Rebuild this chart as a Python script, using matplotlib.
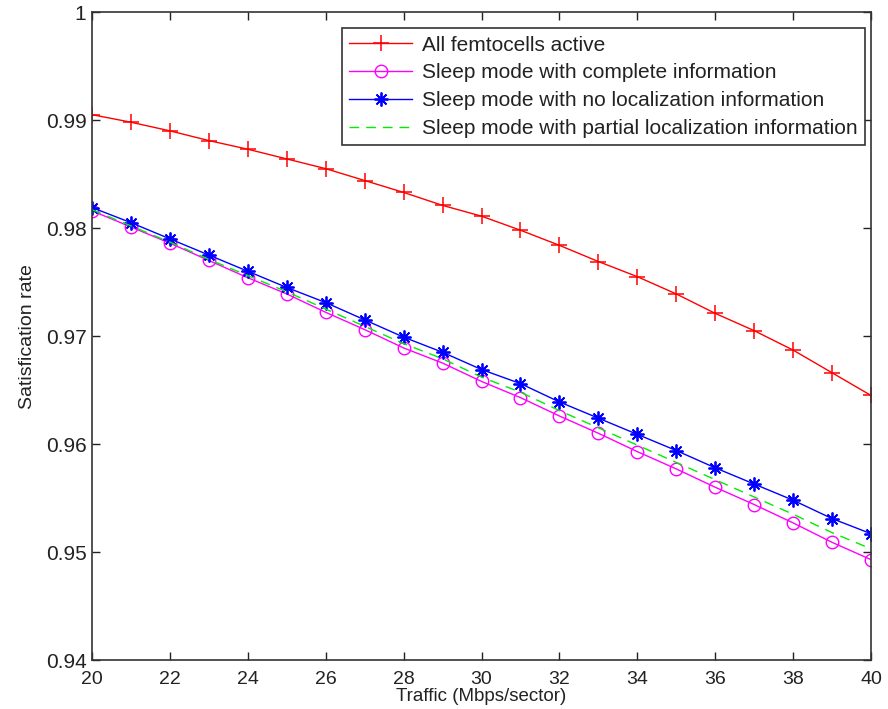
import numpy as np
import matplotlib.pyplot as plt
from matplotlib.ticker import FormatStrFormatter

plt.rcParams['font.family'] = ['Liberation Sans', 'DejaVu Sans']

# traffic load points
traffic = np.arange(20, 41)

all_active = [0.9905, 0.9898, 0.9890, 0.9881, 0.9873, 0.9864, 0.9855, 0.9844,
              0.9833, 0.9821, 0.9811, 0.9798, 0.9784, 0.9769, 0.9755, 0.9739,
              0.9721, 0.9705, 0.9687, 0.9666, 0.9645]
complete_info = [0.9816, 0.9801, 0.9786, 0.9770, 0.9754, 0.9739, 0.9722, 0.9706,
                 0.9689, 0.9675, 0.9658, 0.9643, 0.9626, 0.9610, 0.9593, 0.9577,
                 0.9560, 0.9544, 0.9527, 0.9509, 0.9493]
no_loc_info = [0.9819, 0.9805, 0.9790, 0.9775, 0.9760, 0.9745, 0.9731, 0.9715,
               0.9699, 0.9685, 0.9669, 0.9656, 0.9639, 0.9624, 0.9609, 0.9594,
               0.9578, 0.9563, 0.9548, 0.9531, 0.9517]
partial_loc_info = [0.9817, 0.9802, 0.9787, 0.9771, 0.9756, 0.9741, 0.9725, 0.9709,
                    0.9693, 0.9679, 0.9662, 0.9648, 0.9631, 0.9615, 0.9599, 0.9583,
                    0.9567, 0.9551, 0.9535, 0.9518, 0.9503]

labels = ['All femtocells active',
          'Sleep mode with complete information',
          'Sleep mode with no localization information',
          'Sleep mode with partial localization information']

fig = plt.figure(figsize=(8.88, 7.09), dpi=100)
ax = fig.add_axes([0.1036, 0.069, 0.8773, 0.914])

# asterisk marker: 8 spokes like the classic '*' symbol
asterisk = (8, 2, 0)

ax.plot(traffic, all_active, color='red', marker='+', ms=11, mew=1.1, lw=1.0, label=labels[0])
ax.plot(traffic, complete_info, color='magenta', marker='o', ms=9, mfc='none', mew=1.0, lw=1.0, label=labels[1])
ax.plot(traffic, no_loc_info, color='blue', marker=asterisk, ms=10, mew=1.3, lw=1.0, label=labels[2])
ax.plot(traffic, partial_loc_info, color='#00ee00', ls=(0, (7, 5)), lw=1.0, label=labels[3])

ax.set_xlim(20, 40)
ax.set_ylim(0.94, 1.0)
ax.set_xticks(np.arange(20, 41, 2))
ax.set_yticks(np.arange(0.94, 1.001, 0.01))
ax.yaxis.set_major_formatter(FormatStrFormatter('%g'))
ax.tick_params(direction='in', top=True, right=True, length=6, width=1.0, colors='#222222')
ax.tick_params(axis='x', labelsize=14, pad=8)
ax.tick_params(axis='y', labelsize=15, pad=4)
for s in ax.spines.values():
    s.set_linewidth(1.2)
    s.set_color('#333333')

ax.set_xlabel('Traffic (Mbps/sector)', fontsize=13.5, labelpad=0, color='#222222')
ax.set_ylabel('Satisfication rate', fontsize=14, labelpad=7, color='#222222')

leg = ax.legend(loc='upper right', bbox_to_anchor=(0.9925, 0.975), fontsize=15,
                frameon=True, fancybox=False, edgecolor='#333333', framealpha=1,
                handlelength=3.0, borderpad=0.35, labelspacing=0.42,
                handletextpad=0.5, borderaxespad=0)
leg.get_frame().set_linewidth(1.2)
for t in leg.get_texts():
    t.set_color('#222222')

fig.savefig('out.png', dpi=100)
